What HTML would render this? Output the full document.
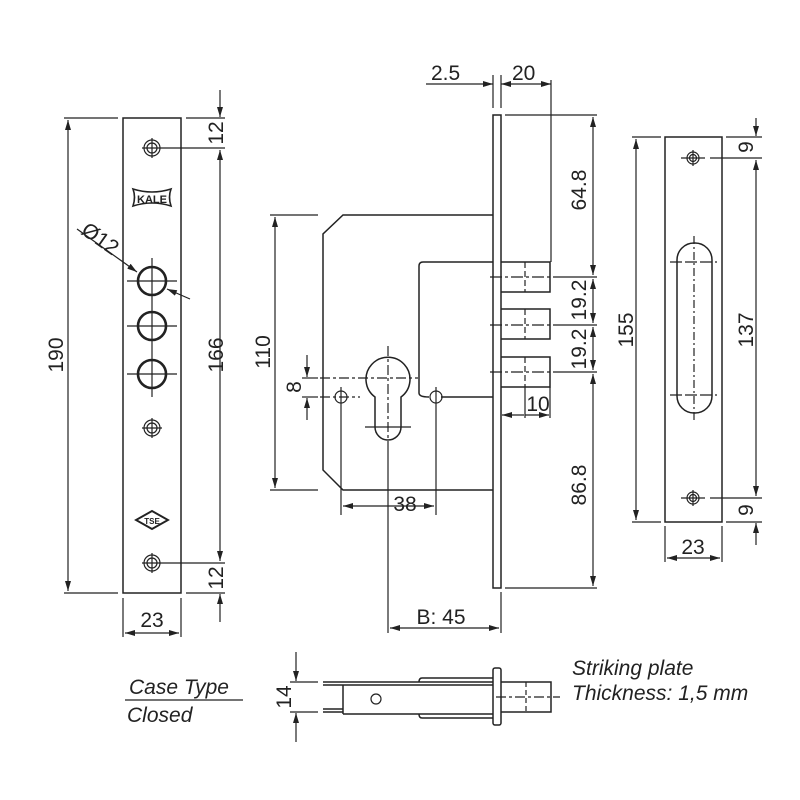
<!DOCTYPE html>
<html><head><meta charset="utf-8"><style>
body{margin:0;background:#fff}
svg{display:block}
text{font-family:"Liberation Sans",sans-serif;fill:#222}
.d{font-size:21px}
</style></head><body>
<svg width="800" height="800" viewBox="0 0 800 800" xmlns="http://www.w3.org/2000/svg">
<defs>
<marker id="a" viewBox="0 0 10 6" refX="10" refY="3" markerWidth="10" markerHeight="6" orient="auto-start-reverse" markerUnits="userSpaceOnUse"><path d="M0,0L10,3L0,6z" fill="#222"/></marker>
</defs>
<g stroke="#222" stroke-width="1.2" fill="none">
<!-- LEFT FACEPLATE -->
<rect x="123" y="118" width="58" height="475" stroke-width="1.5"/>
<line x1="64" y1="118" x2="118" y2="118"/><line x1="64" y1="593" x2="118" y2="593"/>
<line x1="68" y1="120" x2="68" y2="591" marker-start="url(#a)" marker-end="url(#a)"/>
<line x1="186" y1="118" x2="225" y2="118"/><line x1="186" y1="593" x2="225" y2="593"/>
<line x1="162" y1="148" x2="225" y2="148"/><line x1="162" y1="563" x2="225" y2="563"/>
<line x1="220" y1="90" x2="220" y2="117" marker-end="url(#a)"/>
<line x1="220" y1="150" x2="220" y2="561" marker-start="url(#a)" marker-end="url(#a)"/>
<line x1="220" y1="594" x2="220" y2="622" marker-start="url(#a)"/>
<line x1="123" y1="598" x2="123" y2="637"/><line x1="181" y1="598" x2="181" y2="637"/>
<line x1="125" y1="633" x2="179" y2="633" marker-start="url(#a)" marker-end="url(#a)"/>
<g><circle cx="152" cy="148" r="8"/><circle cx="152" cy="148" r="5"/><line x1="152" y1="138" x2="152" y2="158"/><line x1="142" y1="148" x2="162" y2="148"/></g>
<g><circle cx="152" cy="428" r="8"/><circle cx="152" cy="428" r="5"/><line x1="152" y1="418" x2="152" y2="438"/><line x1="142" y1="428" x2="162" y2="428"/></g>
<g><circle cx="152" cy="563" r="8"/><circle cx="152" cy="563" r="5"/><line x1="152" y1="553" x2="152" y2="573"/><line x1="142" y1="563" x2="162" y2="563"/></g>
<g stroke-width="2.6"><circle cx="152" cy="281" r="14"/><circle cx="152" cy="326" r="14"/><circle cx="152" cy="374" r="14"/></g>
<g><line x1="127" y1="281" x2="177" y2="281"/><line x1="152" y1="258" x2="152" y2="303"/>
<line x1="127" y1="326" x2="177" y2="326"/><line x1="152" y1="303" x2="152" y2="350"/>
<line x1="127" y1="374" x2="177" y2="374"/><line x1="152" y1="350" x2="152" y2="397"/></g>
<line x1="77" y1="229" x2="137" y2="272" marker-end="url(#a)"/>
<line x1="190" y1="299" x2="167" y2="289" marker-end="url(#a)"/>
<path d="M133,189 Q152,195 171,189 Q168,197 171,206 Q152,200 133,206 Q136,197 133,189z" stroke-width="1.6"/>
<path d="M152,511 L168,520 L152,529 L136,520z" stroke-width="1.9"/>
<!-- CENTER LOCK -->
<rect x="493" y="115" width="8" height="473" stroke-width="1.5"/>
<line x1="493" y1="75" x2="493" y2="108"/><line x1="501" y1="75" x2="501" y2="108"/>
<line x1="551" y1="80" x2="551" y2="262"/>
<line x1="426" y1="84" x2="493" y2="84" marker-end="url(#a)"/>
<line x1="501" y1="84" x2="551" y2="84" marker-start="url(#a)" marker-end="url(#a)"/>
<path d="M493,215 L343,215 L323,234 L323,470 L343,490 L493,490" stroke-width="1.5"/>
<path d="M493,262 L423,262 Q419,262 419,266 L419,393 Q419,397 429,397 M441,397 L493,397" stroke-width="1.5"/>
<g stroke-width="1.5"><path d="M501,262 H550 V292 H501"/><path d="M501,309 H550 V339 H501"/><path d="M501,357 H550 V387 H501"/></g>
<g stroke-dasharray="6,3"><line x1="525" y1="262" x2="525" y2="292"/><line x1="525" y1="309" x2="525" y2="339"/><line x1="525" y1="357" x2="525" y2="387"/></g>
<g stroke-dasharray="12,3,3,3"><line x1="490" y1="277" x2="560" y2="277"/><line x1="490" y1="325" x2="560" y2="325"/><line x1="490" y1="372" x2="560" y2="372"/></g>
<line x1="560" y1="277" x2="597" y2="277"/><line x1="560" y1="325" x2="597" y2="325"/><line x1="560" y1="372" x2="597" y2="372"/>
<line x1="505" y1="115" x2="597" y2="115"/><line x1="505" y1="588" x2="597" y2="588"/>
<line x1="593" y1="117" x2="593" y2="275" marker-start="url(#a)" marker-end="url(#a)"/>
<line x1="593" y1="279" x2="593" y2="323" marker-start="url(#a)" marker-end="url(#a)"/>
<line x1="593" y1="327" x2="593" y2="370" marker-start="url(#a)" marker-end="url(#a)"/>
<line x1="593" y1="374" x2="593" y2="586" marker-start="url(#a)" marker-end="url(#a)"/>
<line x1="550" y1="387" x2="550" y2="418"/>
<line x1="502" y1="415" x2="524" y2="415" marker-start="url(#a)"/><line x1="525" y1="415" x2="549" y2="415" marker-end="url(#a)"/>
<line x1="525" y1="387" x2="525" y2="418"/>
<!-- keyhole -->
<path d="M375,397 A22,22 0 1 1 401,397 L401,427 A13,13 0 0 1 375,427 Z" stroke-width="1.5"/>
<g stroke-dasharray="10,3,3,3"><line x1="388" y1="346" x2="388" y2="445"/><line x1="320" y1="378" x2="418" y2="378"/><line x1="320" y1="397" x2="360" y2="397"/></g>
<line x1="365" y1="427" x2="411" y2="427"/>
<line x1="388" y1="445" x2="388" y2="633"/>
<circle cx="341" cy="397" r="6"/><circle cx="436" cy="397" r="6"/>
<line x1="341" y1="387" x2="341" y2="515"/><line x1="436" y1="387" x2="436" y2="515"/>
<line x1="343" y1="506" x2="434" y2="506" marker-start="url(#a)" marker-end="url(#a)"/>
<line x1="501" y1="592" x2="501" y2="633"/>
<line x1="390" y1="628" x2="499" y2="628" marker-start="url(#a)" marker-end="url(#a)"/>
<line x1="270" y1="215" x2="318" y2="215"/><line x1="270" y1="490" x2="318" y2="490"/>
<line x1="275" y1="217" x2="275" y2="488" marker-start="url(#a)" marker-end="url(#a)"/>
<line x1="302" y1="378" x2="318" y2="378"/><line x1="302" y1="397" x2="318" y2="397"/>
<line x1="307" y1="355" x2="307" y2="377" marker-end="url(#a)"/>
<line x1="307" y1="420" x2="307" y2="398" marker-end="url(#a)"/>
<!-- RIGHT STRIKE PLATE -->
<rect x="665" y="137" width="57" height="385" stroke-width="1.5"/>
<rect x="677" y="243" width="35" height="170" rx="17" stroke-width="1.5"/>
<line x1="694" y1="236" x2="694" y2="420" stroke-dasharray="8,3,2,3"/>
<line x1="670" y1="262" x2="717" y2="262" stroke-dasharray="12,3"/><line x1="670" y1="395" x2="717" y2="395" stroke-dasharray="12,3"/>
<g><circle cx="693" cy="158" r="6"/><circle cx="693" cy="158" r="3.5"/><line x1="681" y1="158" x2="705" y2="158"/><line x1="693" y1="150" x2="693" y2="166"/></g>
<g><circle cx="693" cy="498" r="6"/><circle cx="693" cy="498" r="3.5"/><line x1="681" y1="498" x2="705" y2="498"/><line x1="693" y1="490" x2="693" y2="506"/></g>
<line x1="632" y1="137" x2="661" y2="137"/><line x1="632" y1="522" x2="661" y2="522"/>
<line x1="636" y1="139" x2="636" y2="520" marker-start="url(#a)" marker-end="url(#a)"/>
<line x1="726" y1="137" x2="762" y2="137"/><line x1="726" y1="522" x2="762" y2="522"/>
<line x1="710" y1="158" x2="762" y2="158"/><line x1="710" y1="498" x2="762" y2="498"/>
<line x1="756" y1="118" x2="756" y2="136" marker-end="url(#a)"/>
<line x1="756" y1="160" x2="756" y2="496" marker-start="url(#a)" marker-end="url(#a)"/>
<line x1="756" y1="523" x2="756" y2="545" marker-start="url(#a)"/>
<line x1="665" y1="526" x2="665" y2="562"/><line x1="722" y1="526" x2="722" y2="562"/>
<line x1="667" y1="558" x2="720" y2="558" marker-start="url(#a)" marker-end="url(#a)"/>
<!-- BOTTOM SIDE VIEW -->
<line x1="296" y1="652" x2="296" y2="681" marker-end="url(#a)"/>
<line x1="296" y1="742" x2="296" y2="713" marker-end="url(#a)"/>
<line x1="290" y1="682" x2="318" y2="682"/><line x1="290" y1="712" x2="318" y2="712"/>
<g stroke-width="1.5">
<path d="M323,682 L493,682 M323,685 L493,685"/>
<line x1="343" y1="685" x2="343" y2="714"/>
<path d="M323,709 L343,709 M323,712 L343,712"/>
<line x1="343" y1="714" x2="493" y2="714"/>
<path d="M493,678 L422,678 Q419,678 419,682"/>
<path d="M493,718 L422,718 Q419,718 419,714"/>
<rect x="493" y="668" width="8" height="57" rx="2"/>
<path d="M501,682 H551 V712 H501"/>
</g>
<circle cx="376" cy="699" r="5"/>
<line x1="526" y1="682" x2="526" y2="712" stroke-dasharray="5,3"/>
<line x1="496" y1="697" x2="560" y2="697" stroke-dasharray="10,3,3,3"/>
<line x1="125" y1="700" x2="243" y2="700"/>
</g>
<g class="d">
<text x="431" y="80">2.5</text>
<text x="512" y="80">20</text>
<text transform="translate(223,133) rotate(-90)" text-anchor="middle">12</text>
<text transform="translate(223,355) rotate(-90)" text-anchor="middle">166</text>
<text transform="translate(223,578) rotate(-90)" text-anchor="middle">12</text>
<text transform="translate(63,355) rotate(-90)" text-anchor="middle">190</text>
<text x="152" y="627" text-anchor="middle">23</text>
<text transform="translate(80,233) rotate(35)">Ø12</text>
<text transform="translate(270,352) rotate(-90)" text-anchor="middle">110</text>
<text transform="translate(301,387) rotate(-90)" text-anchor="middle">8</text>
<text x="405" y="511" text-anchor="middle">38</text>
<text x="441" y="624" text-anchor="middle">B: 45</text>
<text x="538" y="411" text-anchor="middle">10</text>
<text transform="translate(586,190) rotate(-90)" text-anchor="middle">64.8</text>
<text transform="translate(586,300) rotate(-90)" text-anchor="middle">19.2</text>
<text transform="translate(586,349) rotate(-90)" text-anchor="middle">19.2</text>
<text transform="translate(586,485) rotate(-90)" text-anchor="middle">86.8</text>
<text transform="translate(633,330) rotate(-90)" text-anchor="middle">155</text>
<text transform="translate(753,147) rotate(-90)" text-anchor="middle">9</text>
<text transform="translate(753,330) rotate(-90)" text-anchor="middle">137</text>
<text transform="translate(753,510) rotate(-90)" text-anchor="middle">9</text>
<text x="693" y="554" text-anchor="middle">23</text>
<text transform="translate(291,697) rotate(-90)" text-anchor="middle">14</text>
<text x="129" y="694" font-style="italic">Case Type</text>
<text x="127" y="722" font-style="italic">Closed</text>
<text x="572" y="675" font-style="italic">Striking plate</text>
<text x="572" y="700" font-style="italic">Thickness: 1,5 mm</text>
</g>
<text x="152" y="203" text-anchor="middle" font-size="11" font-weight="bold">KALE</text>
<text x="152" y="524" text-anchor="middle" font-size="8" font-weight="bold">TSE</text>
</svg>
</body></html>
